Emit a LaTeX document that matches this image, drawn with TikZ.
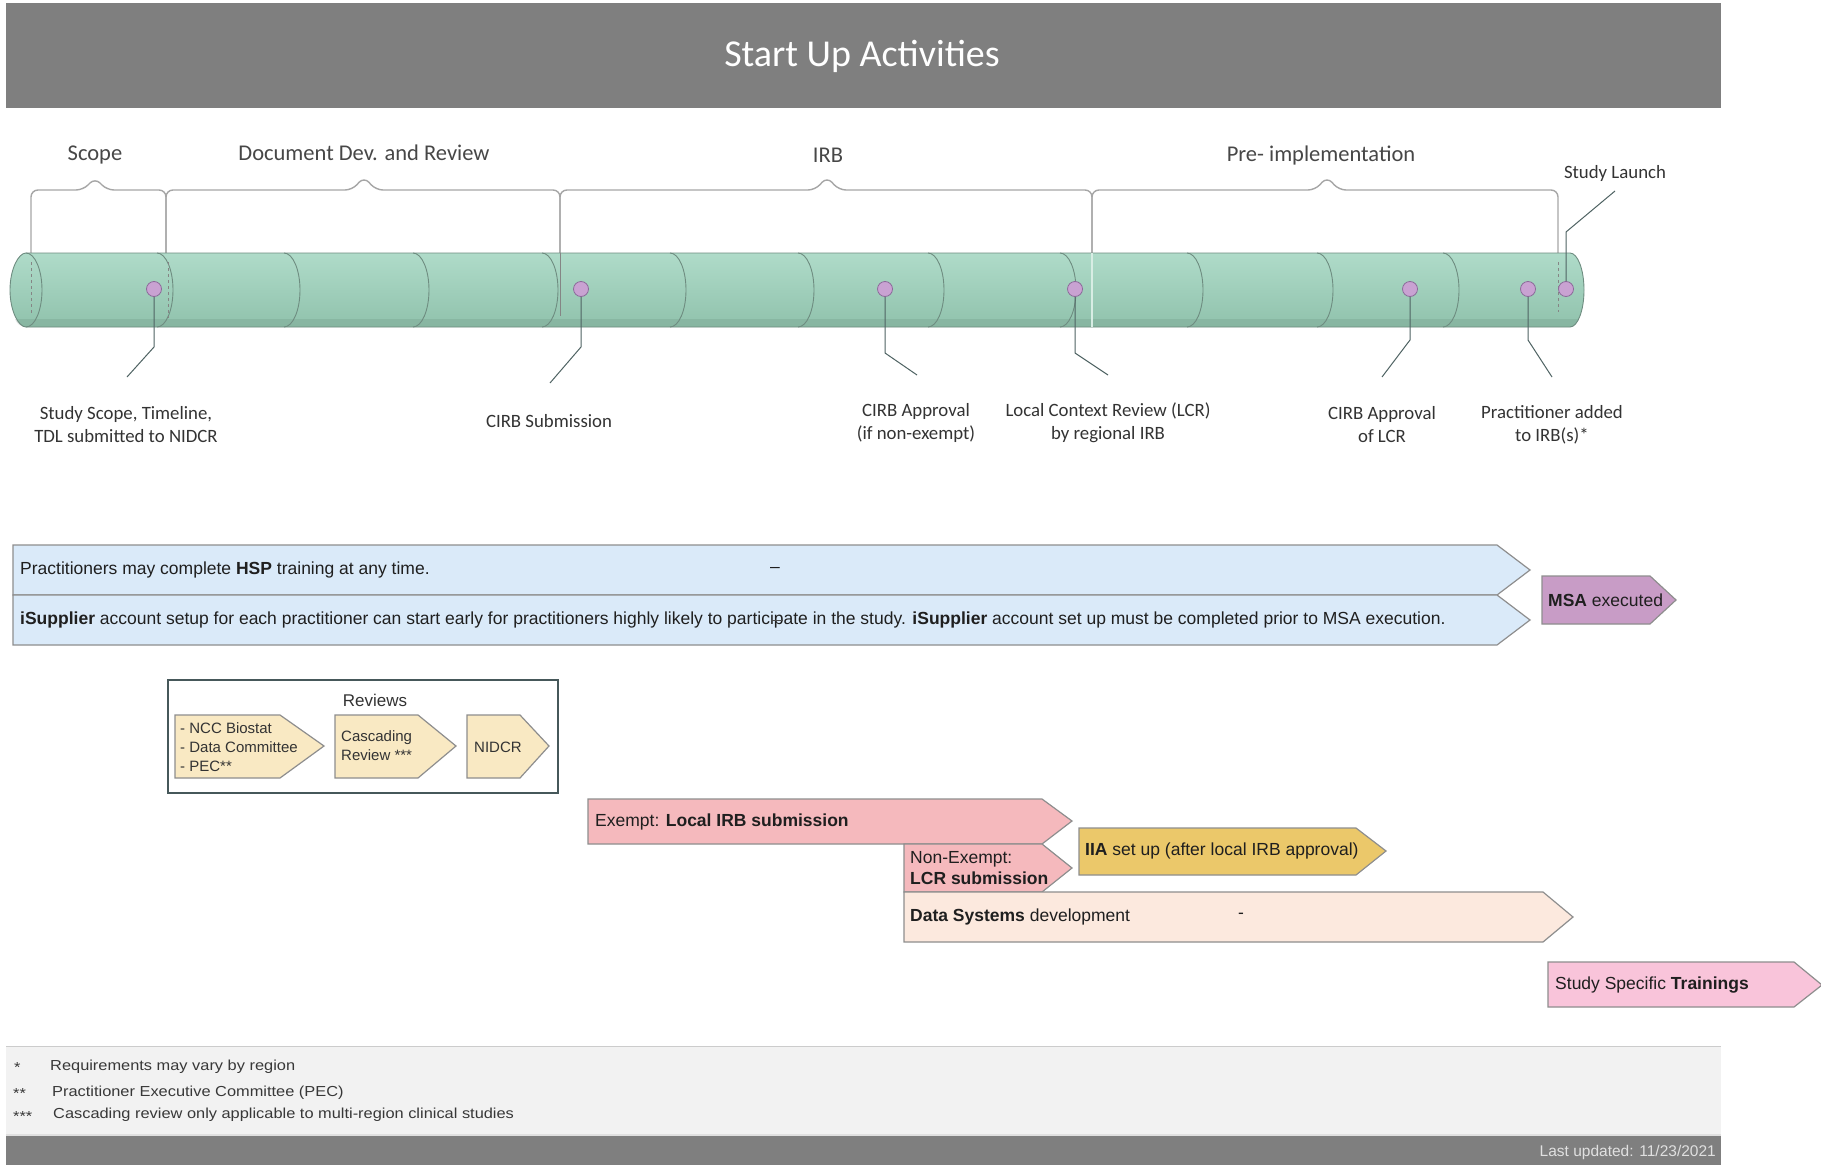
\documentclass[tikz,border=0pt]{standalone}
\usepackage{fontspec}
\setmainfont{Carlito}
\newfontfamily\nf{Liberation Sans}
\newfontfamily\nfw[FakeStretch=1.13]{Liberation Sans}
\definecolor{hdrgray}{HTML}{7F7F7F}
\definecolor{cylA}{HTML}{AFDBC9}
\definecolor{cylB}{HTML}{A8D6C2}
\definecolor{cylC}{HTML}{90C2AC}
\definecolor{cylline}{HTML}{6E8C80}
\definecolor{dotc}{HTML}{C9A2D2}
\definecolor{dotd}{HTML}{8C6A9A}
\definecolor{leadc}{HTML}{4F6363}
\definecolor{bracec}{HTML}{A6A6A6}
\definecolor{bluebar}{HTML}{DAEAF9}
\definecolor{barline}{HTML}{8E8E8E}
\definecolor{msac}{HTML}{C89CC6}
\definecolor{beige}{HTML}{F9E9C3}
\definecolor{revb}{HTML}{46585A}
\definecolor{pinkc}{HTML}{F5B9BD}
\definecolor{iiac}{HTML}{EBC86A}
\definecolor{datac}{HTML}{FCE9DE}
\definecolor{sstc}{HTML}{F9C4DA}
\definecolor{footbg}{HTML}{F2F2F2}
\definecolor{txt}{HTML}{333333}
\begin{document}
\begin{tikzpicture}[x=1pt,y=-1pt,
  dot/.style={circle,inner sep=0pt,minimum size=15pt,fill=dotc,draw=dotd,line width=0.8pt},
  lead/.style={draw=leadc,line width=1pt},
  lbl/.style={align=center,text=txt,font=\fontsize{18.8}{23}\selectfont,inner sep=0pt},
  phase/.style={text=txt!90,font=\fontsize{22.5}{26}\selectfont,inner sep=0pt},
  bracel/.style={draw=bracec,line width=1.4pt,rounded corners=7pt},
  inleg/.style={draw=bracec!80!black,line width=1pt},
  cyl/.style={draw=cylline,line width=0.9pt},
  bar/.style={draw=barline,line width=1.2pt},
  bartxt/.style={anchor=west,inner sep=0pt,text=black!88,font=\nf\fontsize{17.5}{20}\selectfont},
  revtxt/.style={anchor=west,inner sep=0pt,align=left,text=black!80,font=\nf\fontsize{15}{19}\selectfont},
  foottxt/.style={anchor=west,inner sep=0pt,text=black!78,font=\nfw\fontsize{14.5}{18}\selectfont}
]
\useasboundingbox (0,0) rectangle (1821,1167);
\fill[white] (0,0) rectangle (1821,1167);

% header
\fill[hdrgray] (6,3) rectangle (1721,108);
\node[text=white,font=\fontsize{38}{42}\selectfont,inner sep=0pt] (title) at (862,56) {Start Up Activities};

% braces
\draw[bracel] (31,253) -- (31,190) -- (83,190) -- (95,178) -- (107,190) -- (166,190) -- (166,253);
\draw[bracel] (166,253) -- (166,190) -- (352,190) -- (364,177) -- (376,190) -- (560,190) -- (560,253);
\draw[bracel] (560,253) -- (560,190) -- (815,190) -- (827,177) -- (839,190) -- (1092,190) -- (1092,253);
\draw[bracel] (1092,253) -- (1092,190) -- (1315,190) -- (1327,177) -- (1339,190) -- (1558,190) -- (1558,253);

\node[phase] (pscope) at (95,155) {Scope};
\node[phase] (pdoc) at (364,153) {Document Dev. and Review};
\node[phase] (pirb) at (828,155) {IRB};
\node[phase] (ppre) at (1321,155) {Pre- implementation};
\node[lbl] (plaunch) at (1615,173) {Study Launch};

% cylinder
\shade[top color=cylA,middle color=cylB,bottom color=cylC]
  (26,253) -- (1570,253) .. controls (1577.7,253) and (1584,269.6) .. (1584,290)
  .. controls (1584,310.4) and (1577.7,327) .. (1570,327) -- (26,327)
  .. controls (18.3,327) and (10,310.4) .. (10,290)
  .. controls (10,269.6) and (18.3,253) .. (26,253) -- cycle;
\fill[cylC!70!black,opacity=0.22] (26,319) -- (1578,319) .. controls (1576,324) and (1574,327) .. (1570,327) -- (26,327) .. controls (21,327) and (17,324) .. (15,319) -- cycle;
\draw[cyl] (26,253) -- (1570,253) .. controls (1577.7,253) and (1584,269.6) .. (1584,290)
  .. controls (1584,310.4) and (1577.7,327) .. (1570,327) -- (26,327)
  .. controls (18.3,327) and (10,310.4) .. (10,290)
  .. controls (10,269.6) and (18.3,253) .. (26,253);
\foreach \xc in {26,157,284,413,542,670,798,928,1060,1187,1317,1443} {
  \pgfmathsetmacro\xa{\xc+8.8}
  \pgfmathsetmacro\xb{\xc+16}
  \draw[cyl] (\xc,253) .. controls (\xa,253) and (\xb,269.6) .. (\xb,290)
    .. controls (\xb,310.4) and (\xa,327) .. (\xc,327);
}
% legs inside the cylinder
\draw[inleg,dashed] (31,262) -- (31,314);
\draw[inleg,dashed] (168,262) -- (168,318);
\draw[inleg] (560,253) -- (560,316);
\draw[draw=white!55!cylB,line width=1.1pt] (1092,253) -- (1092,327);
\draw[inleg,dashed] (1558,262) -- (1558,312);

% milestones
\node[dot] (d1) at (154,289) {};
\node[dot] (d2) at (581,289) {};
\node[dot] (d3) at (885,289) {};
\node[dot] (d4) at (1075,289) {};
\node[dot] (d5) at (1410,289) {};
\node[dot] (d6) at (1528,289) {};
\node[dot] (d7) at (1566,289) {};

\coordinate (b1) at (154,347); \coordinate (e1) at (127,377);
\coordinate (b2) at (581,347); \coordinate (e2) at (550,383);
\coordinate (b3) at (885,353); \coordinate (e3) at (917,375);
\coordinate (b4) at (1075,353); \coordinate (e4) at (1108,375);
\coordinate (b5) at (1410,340); \coordinate (e5) at (1382,377);
\coordinate (b6) at (1528,340); \coordinate (e6) at (1552,377);
\coordinate (b7) at (1566,232); \coordinate (e7) at (1615,191);
\draw[lead] (d1) -- (b1) -- (e1);
\draw[lead] (d2) -- (b2) -- (e2);
\draw[lead] (d3) -- (b3) -- (e3);
\draw[lead] (d4) -- (b4) -- (e4);
\draw[lead] (d5) -- (b5) -- (e5);
\draw[lead] (d6) -- (b6) -- (e6);
\draw[lead] (d7) -- (b7) -- (e7);

\node[lbl] (t1) at (126,425) {Study Scope, Timeline,\\TDL submitted to NIDCR};
\node[lbl] (t2) at (549,421) {CIRB Submission};
\node[lbl] (t3) at (916,423) {CIRB Approval\\(if non-exempt)};
\node[lbl] (t4) at (1108,423) {Local Context Review (LCR)\\by regional IRB};
\node[lbl] (t5) at (1382,425) {CIRB Approval\\of LCR};
\node[lbl] (t6) at (1552,425) {Practitioner added\\to IRB(s)*};

% blue bars
\draw[bar,fill=bluebar] (13,545) -- (1497,545) -- (1530,570) -- (1497,595) -- (13,595) -- cycle;
\draw[bar,fill=bluebar] (13,595) -- (1497,595) -- (1530,620) -- (1497,645) -- (13,645) -- cycle;
\node[bartxt] (hsp) at (20,570) {Practitioners may complete \textbf{HSP} training at any time.};
\node[bartxt] (dash1) at (770,570) {–};
\node[bartxt] (isup) at (20,620) {\textbf{iSupplier} account setup for each practitioner can start early for practitioners highly likely to participate in the study. \textbf{iSupplier} account set up must be completed prior to MSA execution.};
\draw[draw=black!70,line width=1pt] (771,620) -- (783,620);

% MSA
\draw[bar,fill=msac] (1542,576) -- (1650,576) -- (1676,600) -- (1650,624) -- (1542,624) -- cycle;
\node[bartxt] (msa) at (1548,600) {\textbf{MSA} executed};

% reviews box
\draw[draw=revb,line width=1.6pt,fill=white] (168,680) rectangle (558,793);
\node[inner sep=0pt,text=black!80,font=\nf\fontsize{17}{20}\selectfont] (revt) at (375,700) {Reviews};
\draw[bar,fill=beige] (175,715) -- (280,715) -- (324,746) -- (280,778) -- (175,778) -- cycle;
\draw[bar,fill=beige] (335,715) -- (418,715) -- (456,746) -- (418,778) -- (335,778) -- cycle;
\draw[bar,fill=beige] (467,715) -- (520,715) -- (549,746) -- (520,778) -- (467,778) -- cycle;
\node[revtxt] (r1) at (180,747) {- NCC Biostat\\- Data Committee\\- PEC**};
\node[revtxt] (r2) at (341,746) {Cascading\\Review ***};
\node[revtxt] (r3) at (474,747) {NIDCR};

% IRB submissions
\draw[bar,fill=pinkc] (588,799) -- (1042,799) -- (1072,821) -- (1042,844) -- (588,844) -- cycle;
\node[bartxt] (exempt) at (595,822) {Exempt: \textbf{Local IRB submission}};
\draw[bar,fill=pinkc] (904,844) -- (1042,844) -- (1072,868) -- (1042,892) -- (904,892) -- cycle;
\node[bartxt,align=left,font=\nf\fontsize{17.5}{21}\selectfont] (nonex) at (910,868) {Non-Exempt:\\\textbf{LCR submission}};
\draw[bar,fill=iiac] (1079,828) -- (1356,828) -- (1386,851) -- (1356,875) -- (1079,875) -- cycle;
\node[bartxt] (iia) at (1085,851) {\textbf{IIA} set up (after local IRB approval)};
\draw[bar,fill=datac] (904,892) -- (1543,892) -- (1573,917) -- (1543,942) -- (904,942) -- cycle;
\node[bartxt] (data) at (910,917) {\textbf{Data Systems} development};
\node[bartxt] (dash3) at (1238,916) {-};
\draw[bar,fill=sstc] (1548,962) -- (1794,962) -- (1822,985) -- (1794,1007) -- (1548,1007) -- cycle;
\node[bartxt] (sst) at (1555,985) {Study Specific \textbf{Trainings}};

% footnotes
\fill[footbg] (6,1046) rectangle (1721,1135);
\draw[draw=black!20,line width=1pt] (6,1046) -- (1721,1046);
\fill[hdrgray] (6,1135) rectangle (1721,1165);
\draw[draw=black!12,line width=1.5pt] (6,1135) -- (1721,1135);
\node[foottxt] (f1s) at (14,1068) {*};
\node[foottxt] (f1) at (50,1067) {Requirements may vary by region};
\node[foottxt] (f2s) at (13,1094) {**};
\node[foottxt] (f2) at (52,1093) {Practitioner Executive Committee (PEC)};
\node[foottxt] (f3s) at (13,1116) {***};
\node[foottxt] (f3) at (53,1115) {Cascading review only applicable to multi-region clinical studies};
\node[anchor=east,inner sep=0pt,text=black!12,font=\nf\fontsize{15.5}{17}\selectfont] (upd) at (1716,1152) {Last updated: 11/23/2021};
\end{tikzpicture}
\end{document}
